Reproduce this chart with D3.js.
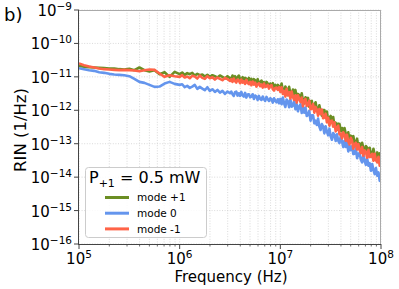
<!DOCTYPE html>
<html>
<head>
<meta charset="utf-8">
<script src="https://d3js.org/d3.v7.min.js"></script>
<style>
  body { margin: 0; background: #fff; }
  text { font-family: "DejaVu Sans", sans-serif; fill: #000; }
</style>
</head>
<body>
<svg id="svg_rin" width="399" height="289"></svg>
<script>

// log10 of frequency (Hz), denser where the traces get noisy
var logFreq = [5.00,5.05,5.10,5.15,5.20,5.25,5.30,5.35,5.40,5.45,5.50,5.55,5.60,5.65,5.70,5.75,5.80,5.85,5.90,5.95,6.00,
  6.025,6.05,6.075,6.10,6.125,6.15,6.175,6.20,6.225,6.25,6.275,6.30,6.325,6.35,6.375,6.40,6.425,6.45,6.475,6.50,
  6.5125,6.525,6.5375,6.55,6.5625,6.575,6.5875,6.60,
  6.6125,6.625,6.6375,6.65,6.6625,6.675,6.6875,6.70,
  6.7125,6.725,6.7375,6.75,6.7625,6.775,6.7875,6.80,
  6.8125,6.825,6.8375,6.85,6.8625,6.875,6.8875,6.90,
  6.9125,6.925,6.9375,6.95,6.9625,6.975,6.9875,7.00,
  7.0125,7.025,7.0375,7.05,7.0625,7.075,7.0875,7.10,
  7.1125,7.125,7.1375,7.15,7.1625,7.175,7.1875,7.20,
  7.2125,7.225,7.2375,7.25,7.2625,7.275,7.2875,7.30,
  7.3125,7.325,7.3375,7.35,7.3625,7.375,7.3875,7.40,
  7.4125,7.425,7.4375,7.45,7.4625,7.475,7.4875,7.50,
  7.5125,7.525,7.5375,7.55,7.5625,7.575,7.5875,7.60,
  7.6125,7.625,7.6375,7.65,7.6625,7.675,7.6875,7.70,
  7.7125,7.725,7.7375,7.75,7.7625,7.775,7.7875,7.80,
  7.8125,7.825,7.8375,7.85,7.8625,7.875,7.8875,7.90,
  7.9125,7.925,7.9375,7.95,7.9625,7.975,7.9875,8.00]

// log10 of RIN (1/Hz)
var rinModePlus1 = [-10.67,-10.70,-10.71,-10.72,-10.73,-10.74,-10.75,-10.75,-10.77,-10.78,-10.76,-10.80,-10.72,-10.80,-10.84,-10.80,-10.92,-10.86,-11.00,-10.85,-10.92,
  -10.87,-10.94,-10.89,-10.92,-10.88,-10.96,-10.91,-10.95,-10.93,-10.99,-10.94,-11.00,-10.95,-10.98,-11.02,-10.96,-11.00,-11.05,-10.98,-11.04,
  -11.06,-10.96,-11.03,-10.98,-11.09,-11.01,-10.96,-11.06,
  -11.09,-11.01,-11.13,-11.03,-11.06,-11.13,-11.03,-11.11,
  -11.06,-11.17,-11.07,-11.10,-11.17,-11.07,-11.20,-11.16,
  -11.11,-11.21,-11.16,-11.27,-11.15,-11.20,-11.29,-11.20,
  -11.27,-11.19,-11.32,-11.24,-11.34,-11.24,-11.29,-11.34,
  -11.20,-11.40,-11.47,-11.29,-11.36,-11.55,-11.30,-11.50,
  -11.55,-11.38,-11.53,-11.39,-11.67,-11.51,-11.55,-11.70,
  -11.49,-11.72,-11.79,-11.61,-11.72,-11.63,-11.90,-11.73,
  -11.72,-11.94,-11.84,-11.76,-11.97,-12.03,-11.85,-12.02,
  -12.16,-11.99,-11.99,-12.17,-12.04,-12.31,-12.22,-12.17,
  -12.37,-12.20,-12.47,-12.37,-12.58,-12.40,-12.41,-12.61,
  -12.53,-12.75,-12.53,-12.71,-12.82,-12.66,-12.94,-12.76,
  -12.83,-12.77,-13.00,-12.99,-12.85,-13.12,-12.99,-13.14,
  -12.97,-13.13,-13.27,-13.07,-13.12,-13.30,-13.12,-13.31,
  -13.39,-13.15,-13.35,-13.43,-13.26,-13.43,-13.29,-13.54]

var rinMode0 = [-10.74,-10.77,-10.80,-10.82,-10.86,-10.88,-10.91,-10.93,-10.94,-10.95,-10.98,-11.06,-11.15,-11.18,-11.24,-11.30,-11.29,-11.20,-11.15,-11.21,-11.24,
  -11.22,-11.31,-11.27,-11.33,-11.29,-11.24,-11.36,-11.30,-11.35,-11.40,-11.31,-11.42,-11.37,-11.45,-11.39,-11.47,-11.42,-11.51,-11.44,-11.49,
  -11.44,-11.52,-11.57,-11.46,-11.44,-11.56,-11.49,-11.57,
  -11.45,-11.55,-11.59,-11.48,-11.62,-11.53,-11.52,-11.61,
  -11.59,-11.52,-11.66,-11.56,-11.59,-11.69,-11.57,-11.66,
  -11.69,-11.59,-11.67,-11.72,-11.60,-11.67,-11.72,-11.64,
  -11.67,-11.77,-11.64,-11.72,-11.76,-11.67,-11.79,-11.66,
  -11.82,-11.62,-11.80,-11.90,-11.68,-11.73,-11.91,-11.68,
  -11.89,-11.86,-11.72,-11.97,-11.82,-12.03,-11.89,-11.82,
  -12.08,-11.91,-12.07,-11.92,-12.17,-12.14,-12.02,-12.31,
  -12.15,-12.15,-12.39,-12.31,-12.44,-12.25,-12.49,-12.59,
  -12.41,-12.49,-12.69,-12.48,-12.64,-12.75,-12.55,-12.78,
  -12.88,-12.68,-12.74,-12.92,-12.72,-12.91,-12.98,-12.78,
  -12.93,-13.10,-12.91,-13.10,-12.94,-13.23,-13.06,-13.19,
  -13.08,-13.31,-13.30,-13.14,-13.43,-13.30,-13.28,-13.48,
  -13.56,-13.34,-13.51,-13.63,-13.44,-13.66,-13.58,-13.81,
  -13.61,-13.79,-13.91,-13.73,-13.96,-13.86,-14.11,-13.92]

var rinModeMinus1 = [-10.60,-10.65,-10.69,-10.72,-10.75,-10.77,-10.78,-10.79,-10.80,-10.79,-10.80,-10.81,-10.83,-10.80,-10.78,-10.79,-10.90,-11.00,-10.95,-10.98,-11.00,
  -10.95,-11.02,-10.99,-11.04,-10.97,-10.99,-11.05,-10.96,-11.03,-11.06,-10.98,-11.04,-11.01,-11.08,-11.02,-11.06,-11.10,-11.03,-11.07,-11.12,
  -11.07,-11.15,-11.05,-11.13,-11.17,-11.08,-11.11,-11.19,
  -11.08,-11.17,-11.13,-11.21,-11.09,-11.18,-11.22,-11.15,
  -11.25,-11.14,-11.23,-11.17,-11.29,-11.22,-11.19,-11.28,
  -11.23,-11.32,-11.20,-11.30,-11.29,-11.24,-11.35,-11.27,
  -11.25,-11.37,-11.41,-11.33,-11.32,-11.39,-11.31,-11.45,
  -11.31,-11.51,-11.42,-11.59,-11.36,-11.55,-11.46,-11.65,
  -11.44,-11.60,-11.69,-11.55,-11.77,-11.55,-11.66,-11.75,
  -11.62,-11.88,-11.71,-11.66,-11.87,-11.84,-11.71,-11.97,
  -11.95,-11.81,-12.07,-11.90,-11.98,-12.16,-11.96,-12.11,
  -11.98,-12.24,-12.22,-12.10,-12.36,-12.22,-12.46,-12.32,
  -12.31,-12.49,-12.36,-12.63,-12.52,-12.46,-12.72,-12.70,
  -12.84,-12.66,-12.73,-12.91,-12.73,-12.93,-13.02,-12.82,
  -12.91,-13.15,-13.02,-12.97,-13.17,-13.01,-13.19,-13.28,
  -13.10,-13.36,-13.20,-13.25,-13.42,-13.18,-13.40,-13.38,
  -13.30,-13.51,-13.30,-13.50,-13.56,-13.39,-13.66,-13.49]

var seriesNames = ["mode +1", "mode 0", "mode -1"]
var seriesColors = ["#6b8e23", "#6495ed", "#ff6347"]
var seriesValues = [rinModePlus1, rinMode0, rinModeMinus1]

var xTickExp = [5, 6, 7, 8]
var yTickExp = [-16, -15, -14, -13, -12, -11, -10, -9]

var svg = d3.select("#svg_rin")

var plotLeft = 79, plotRight = 381, plotTop = 10, plotBottom = 244

var scaleX = d3.scaleLog().domain([1e5, 1e8]).range([plotLeft, plotRight])
var scaleY = d3.scaleLog().domain([1e-16, 1e-9]).range([plotBottom, plotTop])

// minor x positions (2..9 in each decade)
var minorX = []
xTickExp.slice(0, -1).forEach(function(e){
  for (var k = 2; k < 10; k++) minorX.push(k * Math.pow(10, e))
})

// grid
var grid = svg.append("g")
grid.selectAll(".gx")
    .data(xTickExp.map(e => Math.pow(10, e)).concat(minorX))
    .enter().append("line")
    .attr("x1", d => scaleX(d)).attr("x2", d => scaleX(d))
    .attr("y1", plotTop).attr("y2", plotBottom)
    .attr("stroke", "#d0d0d0").attr("stroke-width", 0.8)
    .attr("stroke-dasharray", "1,1.6")
grid.selectAll(".gy")
    .data(yTickExp.map(e => Math.pow(10, e)))
    .enter().append("line")
    .attr("x1", plotLeft).attr("x2", plotRight)
    .attr("y1", d => scaleY(d)).attr("y2", d => scaleY(d))
    .attr("stroke", "#d0d0d0").attr("stroke-width", 0.8)
    .attr("stroke-dasharray", "1,1.6")

// curves
svg.append("clipPath").attr("id", "clip")
   .append("rect").attr("x", plotLeft).attr("y", plotTop)
   .attr("width", plotRight - plotLeft).attr("height", plotBottom - plotTop)

var line = d3.line()
    .x((d, i) => scaleX(Math.pow(10, logFreq[i])))
    .y(d => scaleY(Math.pow(10, d)))

svg.append("g").attr("clip-path", "url(#clip)")
   .selectAll("path")
   .data(seriesValues)
   .enter().append("path")
   .attr("d", d => line(d))
   .attr("fill", "none")
   .attr("stroke", (d, i) => seriesColors[i])
   .attr("stroke-width", 2.6)
   .attr("stroke-linejoin", "round")

// frame
svg.append("line").attr("x1", plotLeft).attr("x2", plotRight).attr("y1", plotTop + 0.5).attr("y2", plotTop + 0.5)
   .attr("stroke", "#aaa").attr("stroke-width", 1)
svg.append("line").attr("x1", plotRight - 0.5).attr("x2", plotRight - 0.5).attr("y1", plotTop).attr("y2", plotBottom)
   .attr("stroke", "#aaa").attr("stroke-width", 1)

// x axis
var xAxis = svg.append("g")
xAxis.append("line").attr("x1", plotLeft).attr("x2", plotRight).attr("y1", plotBottom + 0.5).attr("y2", plotBottom + 0.5)
     .attr("stroke", "#444")
xAxis.selectAll(".minor").data(minorX).enter().append("line")
     .attr("x1", d => scaleX(d)).attr("x2", d => scaleX(d))
     .attr("y1", plotBottom).attr("y2", plotBottom + 2.5)
     .attr("stroke", "#444").attr("stroke-width", 0.8)
xAxis.selectAll(".major").data(xTickExp).enter().append("line")
     .attr("x1", d => scaleX(Math.pow(10, d))).attr("x2", d => scaleX(Math.pow(10, d)))
     .attr("y1", plotBottom).attr("y2", plotBottom + 5)
     .attr("stroke", "#444").attr("stroke-width", 1)
var xLab = xAxis.selectAll(".lab").data(xTickExp).enter().append("text")
     .attr("x", d => scaleX(Math.pow(10, d)))
     .attr("y", 264)
     .attr("text-anchor", "middle")
     .style("font-size", "15px")
xLab.append("tspan").text("10")
xLab.append("tspan").attr("dy", -6).style("font-size", "10.5px").text(d => d)

// y axis
var yAxis = svg.append("g")
yAxis.append("line").attr("x1", plotLeft - 0.5).attr("x2", plotLeft - 0.5).attr("y1", plotTop).attr("y2", plotBottom + 1)
     .attr("stroke", "#444")
yAxis.selectAll(".major").data(yTickExp).enter().append("line")
     .attr("x1", plotLeft - 5).attr("x2", plotLeft)
     .attr("y1", d => scaleY(Math.pow(10, d))).attr("y2", d => scaleY(Math.pow(10, d)))
     .attr("stroke", "#444")
var yLab = yAxis.selectAll(".lab").data(yTickExp).enter().append("text")
     .attr("x", 72)
     .attr("y", d => scaleY(Math.pow(10, d)) + 6)
     .attr("text-anchor", "end")
     .style("font-size", "15px")
yLab.append("tspan").text("10")
yLab.append("tspan").attr("dy", -6).style("font-size", "10.5px").text(d => "\u2212" + Math.abs(d))

// axis titles
svg.append("text").attr("x", 231).attr("y", 282)
   .attr("text-anchor", "middle").style("font-size", "15px")
   .text("Frequency (Hz)")
svg.append("text").attr("transform", "translate(26,130) rotate(-90)")
   .attr("text-anchor", "middle").style("font-size", "16.5px")
   .text("RIN (1/Hz)")

svg.append("text").attr("x", 4).attr("y", 21).style("font-size", "18px").text("b)")

// legend
var legend = svg.append("g")
legend.append("rect").attr("x", 85.5).attr("y", 167.5).attr("width", 121).attr("height", 70)
      .attr("rx", 3).attr("fill", "#fff").attr("fill-opacity", 0.85)
      .attr("stroke", "#ccc").attr("stroke-width", 1)
var title = legend.append("text").attr("x", 89).attr("y", 183.3).style("font-size", "16px")
title.append("tspan").text("P")
title.append("tspan").attr("dy", 4).style("font-size", "11px").text("+1")
title.append("tspan").attr("dy", -4).text(" = 0.5 mW")

var entries = legend.selectAll(".entry").data(seriesNames).enter().append("g")
    .attr("transform", (d, i) => "translate(0," + (197.5 + i * 15.7) + ")")
entries.append("line").attr("x1", 105).attr("x2", 129)
    .attr("stroke", (d, i) => seriesColors[i]).attr("stroke-width", 3)
entries.append("text").attr("x", 137).attr("y", 3.8)
    .style("font-size", "10.5px").text(d => d)

</script>
</body>
</html>
